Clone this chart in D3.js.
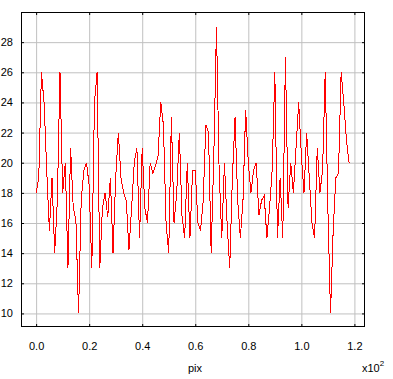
<!DOCTYPE html>
<html>
<head>
<meta charset="utf-8">
<script src="https://cdn.jsdelivr.net/npm/d3@7"></script>
<style>
  body { margin: 0; background: #fff; }
  svg { display: block; font-family: "Liberation Sans", Arial, sans-serif; }
  .grid line { stroke: #c0c0c0; }
  .grid path { display: none; }
  .ticks path { display: none; }
  .ticks line { stroke: #000; }
  .ticks text { fill: #000; font-size: 11px; }
</style>
</head>
<body>
<svg id="chart"></svg>
<script>
// values, one per pixel index (0..118)
const pixValues = [
  18, 19, 26, 24, 19.5, 15.5, 19, 14, 17.5, 26,
  18, 20, 13, 21, 17, 16.2, 10, 17.5, 19.5, 20,
  18.5, 13, 24, 26, 13, 17, 18, 16.4, 19, 14,
  19, 22, 19, 18, 17.5, 14.2, 17, 20, 21, 15,
  21, 17, 16, 20, 19.3, 19.8, 20.5, 24, 22.5, 16,
  14, 23, 16, 18, 22, 16.5, 15, 20, 15, 19.5,
  19.5, 16, 15.5, 17.5, 22.5, 22, 14, 20.5, 29, 19.5,
  15, 20, 16, 13, 19, 23, 17.5, 15, 17.5, 23.5,
  20, 18, 19.5, 20, 16.5, 17.5, 17.8, 15, 17, 19.5,
  26, 15, 19, 15, 27, 17, 20, 18, 21, 24,
  20.5, 18, 22, 19, 16, 15, 21, 18, 19.5, 26,
  17, 10, 15.5, 19, 19.3, 26, 24, 21.5, 20
];
const xTicks = [0, 20, 40, 60, 80, 100, 120];
const yTicks = [10, 12, 14, 16, 18, 20, 22, 24, 26, 28];
const xLabel = "pix";

const W = 393, H = 379;
const margin = {left: 21, right: 365, top: 12, bottom: 327};

const svg = d3.select("#chart").attr("width", W).attr("height", H);

const x = d3.scaleLinear().domain([-5.7, 124]).range([margin.left, margin.right]);
const y = d3.scaleLinear().domain([9.1, 30]).range([margin.bottom, margin.top]);

// grid lines
svg.append("g")
    .attr("class", "grid")
    .attr("transform", "translate(0," + margin.bottom + ")")
    .call(d3.axisBottom(x).tickValues(xTicks).tickSize(-(margin.bottom - margin.top)).tickFormat(""));
svg.append("g")
    .attr("class", "grid")
    .attr("transform", "translate(" + margin.left + ",0)")
    .call(d3.axisLeft(y).tickValues(yTicks).tickSize(-(margin.right - margin.left)).tickFormat(""));

// data line (aliased, like the original)
const line = d3.line()
    .x((d, i) => x(i))
    .y(d => y(d));
svg.append("path")
    .datum(pixValues)
    .attr("fill", "none")
    .attr("stroke", "#ff0000")
    .attr("stroke-width", 1)
    .attr("shape-rendering", "crispEdges")
    .attr("d", line);

// inward ticks on all four sides + labels
svg.append("g")
    .attr("class", "ticks")
    .attr("transform", "translate(0," + margin.bottom + ")")
    .call(d3.axisBottom(x).tickValues(xTicks).tickSizeInner(-3).tickPadding(15)
        .tickFormat(d => (d / 100).toFixed(1)));
svg.append("g")
    .attr("class", "ticks")
    .attr("transform", "translate(0," + margin.top + ")")
    .call(d3.axisTop(x).tickValues(xTicks).tickSizeInner(-3).tickFormat(""));
svg.append("g")
    .attr("class", "ticks")
    .attr("transform", "translate(" + margin.left + ",0)")
    .call(d3.axisLeft(y).tickValues(yTicks).tickSizeInner(-3).tickPadding(8));
svg.append("g")
    .attr("class", "ticks")
    .attr("transform", "translate(" + margin.right + ",0)")
    .call(d3.axisRight(y).tickValues(yTicks).tickSizeInner(-3).tickFormat(""));

// frame
svg.append("rect")
    .attr("x", margin.left + 0.5).attr("y", margin.top + 0.5)
    .attr("width", margin.right - margin.left - 1).attr("height", margin.bottom - margin.top - 1)
    .attr("fill", "none").attr("stroke", "#000");

// axis title and multiplier
svg.append("text")
    .attr("x", 195).attr("y", 372)
    .attr("text-anchor", "middle")
    .style("font-size", "11px")
    .text(xLabel);
const mult = svg.append("text")
    .attr("x", 362).attr("y", 372)
    .style("font-size", "11px");
mult.append("tspan").text("x10");
mult.append("tspan").attr("dy", -6).style("font-size", "8px").text("2");
</script>
</body>
</html>
